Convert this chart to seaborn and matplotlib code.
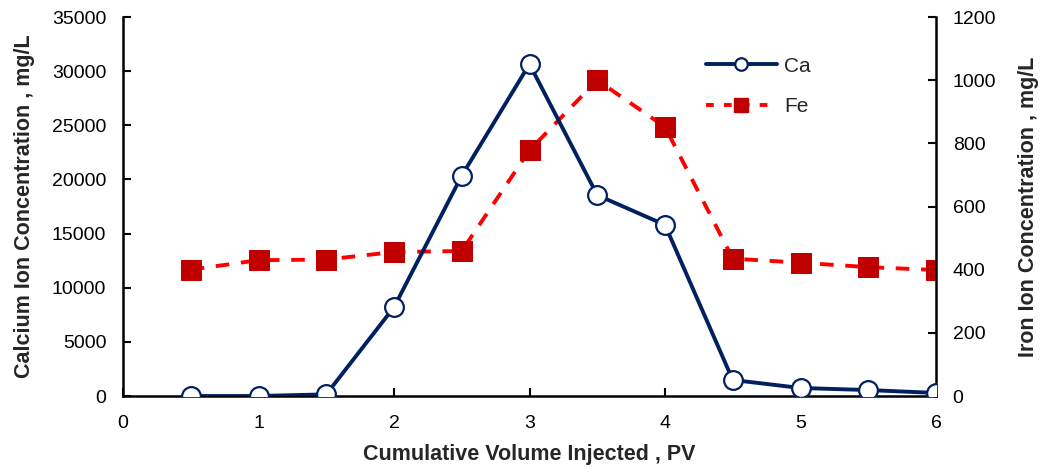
import matplotlib
matplotlib.use("Agg")
import matplotlib.pyplot as plt
import seaborn as sns
import pandas as pd
from matplotlib.lines import Line2D

pv = [0.5, 1.0, 1.5, 2.0, 2.5, 3.0, 3.5, 4.0, 4.5, 5.0, 5.5, 6.0]
ca = [0, 0, 150, 8200, 20350, 30650, 18550, 15800, 1480, 740, 550, 280]
fe = [400, 430, 432, 456, 459, 778, 1000, 852, 435, 422, 408, 399]

sns.set_style("white")
plt.rcParams['font.family'] = ['Liberation Sans', 'DejaVu Sans']

df = pd.DataFrame({"pv": pv, "ca": ca, "fe": fe})

fig = plt.figure(figsize=(10.47, 4.73), dpi=100)
ax = fig.add_axes([123/1047, 1 - 396/473, (936-123)/1047, (396-17)/473])
ax2 = ax.twinx()

navy = "#002060"
sns.lineplot(data=df, x="pv", y="ca", ax=ax, color=navy, lw=2.8,
             marker="o", markersize=13.5, markerfacecolor="white",
             markeredgecolor=navy, markeredgewidth=1.6, zorder=3)
sns.lineplot(data=df, x="pv", y="fe", ax=ax2, color="#FF0000", lw=2.8,
             dashes=False, linestyle=(0, (3.5, 3)), marker="s", markersize=14,
             markerfacecolor="#C00000", markeredgecolor="#C00000", zorder=2)
ax.set_zorder(ax2.get_zorder() + 1)
ax.patch.set_visible(False)

ax.set_xlim(0, 6)
ax.set_ylim(0, 35000)
ax2.set_ylim(0, 1200)
ax.set_xticks(range(0, 7))
ax.set_yticks(range(0, 35001, 5000))
ax2.set_yticks(range(0, 1201, 200))

for a in (ax, ax2):
    for s in a.spines.values():
        s.set_visible(False)
ax.spines['left'].set_visible(True)
ax.spines['bottom'].set_visible(True)
ax2.spines['right'].set_visible(True)
for s in (ax.spines['left'], ax.spines['bottom'], ax2.spines['right']):
    s.set_color("black"); s.set_linewidth(1.8)

ax.tick_params(axis='both', direction='in', length=6, width=1.5, labelsize=14,
               colors='black')
ax.tick_params(axis='y', left=True, pad=12)
ax.tick_params(axis='x', bottom=True, pad=14)
ax2.tick_params(axis='y', direction='in', length=6, width=1.5, labelsize=14,
                right=True, pad=12, colors='black')

ax.set_xlabel("Cumulative Volume Injected , PV", fontsize=15.5, fontweight='bold', labelpad=8)
ax.set_ylabel("Calcium Ion Concentration , mg/L", fontsize=15.5, fontweight='bold', labelpad=12)
ax2.set_ylabel("Iron Ion Concentration , mg/L", fontsize=15.5, fontweight='bold', labelpad=16)

handles = [
    Line2D([], [], color=navy, lw=2.8, marker="o", markersize=9,
           markerfacecolor="white", markeredgecolor=navy, markeredgewidth=1.6),
    Line2D([], [], color="#FF0000", lw=2.8, linestyle=(0, (2, 2.6)), marker="s",
           markersize=10, markerfacecolor="#C00000", markeredgecolor="#C00000"),
]
ax.legend(handles, ["Ca", "Fe"], loc="upper left", bbox_to_anchor=(0.694, 0.945),
          frameon=False, fontsize=15, handlelength=3.4, labelspacing=1.05,
          handletextpad=0.35)

fig.savefig("out.png", dpi=100)
